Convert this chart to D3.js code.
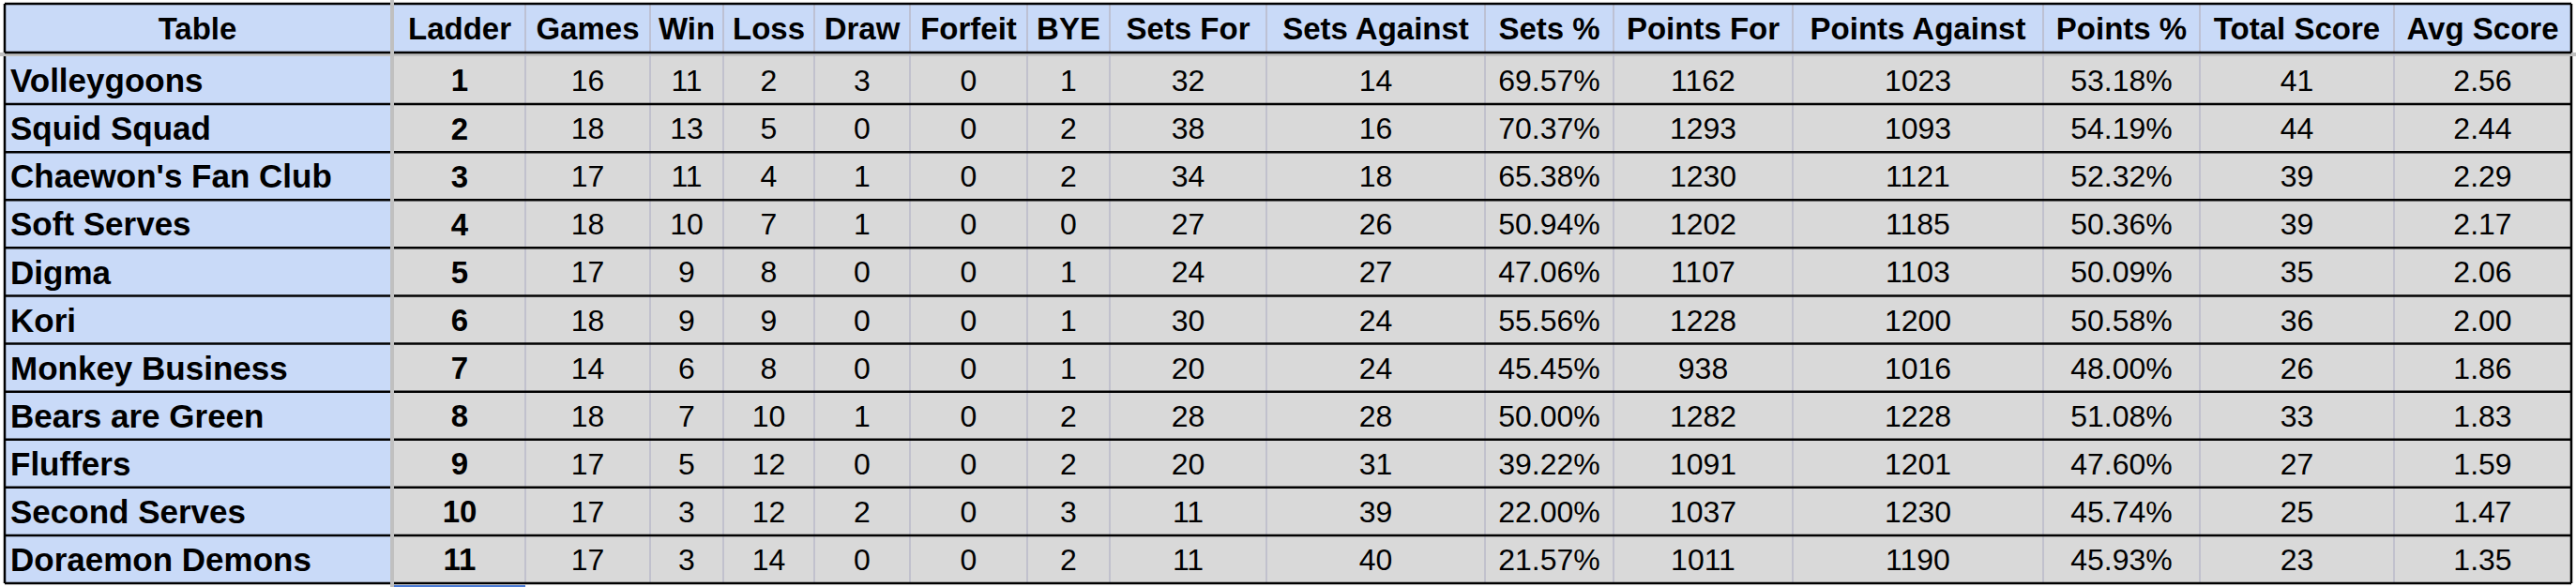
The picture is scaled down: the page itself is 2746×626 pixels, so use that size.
<!DOCTYPE html><html><head><meta charset="utf-8">
<script src="https://cdn.jsdelivr.net/npm/d3@7"></script>
<style>body{margin:0;background:#fff}</style></head><body><svg id="c" width="2746" height="626"></svg>
<script>
const headers=["Table","Ladder","Games","Win","Loss","Draw","Forfeit","BYE","Sets For","Sets Against","Sets %","Points For","Points Against","Points %","Total Score","Avg Score"];
const teams=["Volleygoons","Squid Squad","Chaewon's Fan Club","Soft Serves","Digma","Kori","Monkey Business","Bears are Green","Fluffers","Second Serves","Doraemon Demons"];
const ladder=[1,2,3,4,5,6,7,8,9,10,11];
const games=[16,18,17,18,17,18,14,18,17,17,17];
const win=[11,13,11,10,9,9,6,7,5,3,3];
const loss=[2,5,4,7,8,9,8,10,12,12,14];
const draw=[3,0,1,1,0,0,0,1,0,2,0];
const forfeit=[0,0,0,0,0,0,0,0,0,0,0];
const bye=[1,2,2,0,1,1,1,2,2,3,2];
const setsFor=[32,38,34,27,24,30,20,28,20,11,11];
const setsAgainst=[14,16,18,26,27,24,24,28,31,39,40];
const setsPct=["69.57%","70.37%","65.38%","50.94%","47.06%","55.56%","45.45%","50.00%","39.22%","22.00%","21.57%"];
const pointsFor=[1162,1293,1230,1202,1107,1228,938,1282,1091,1037,1011];
const pointsAgainst=[1023,1093,1121,1185,1103,1200,1016,1228,1201,1230,1190];
const pointsPct=["53.18%","54.19%","52.32%","50.36%","50.09%","50.58%","48.00%","51.08%","47.60%","45.74%","45.93%"];
const totalScore=[41,44,39,39,35,36,26,33,27,25,23];
const avgScore=["2.56","2.44","2.29","2.17","2.06","2.00","1.86","1.83","1.59","1.47","1.35"];
const cols=[teams,ladder,games,win,loss,draw,forfeit,bye,setsFor,setsAgainst,setsPct,pointsFor,pointsAgainst,pointsPct,totalScore,avgScore];
const edges=[5,420,560,693,771,868,970,1095,1183,1350,1583,1720,1911,2178,2345,2552,2741];
const svg=d3.select("#c");
const font="'Liberation Sans',Arial,sans-serif";
const hTop=4,hBot=56,bTop=60,bBot=622;
const y=d3.scaleBand().domain(d3.range(11)).range([bTop,bBot]);
svg.append("rect").attr("x",0).attr("y",0).attr("width",2746).attr("height",626).attr("fill","#fff");
svg.append("rect").attr("x",0).attr("y",hBot).attr("width",2746).attr("height",bTop-hBot).attr("fill","#c0c0c0");
svg.append("rect").attr("x",edges[1]-4).attr("y",0).attr("width",4).attr("height",626).attr("fill","#c0c0c0");
headers.forEach((h,i)=>{
  const x0=i==0?edges[0]:edges[i], x1=i==0?edges[1]-4:edges[i+1];
  svg.append("rect").attr("x",x0).attr("y",hTop).attr("width",x1-x0).attr("height",hBot-hTop).attr("fill","#c9daf8");
  svg.append("text").attr("x",(x0+x1)/2).attr("y",(hTop+hBot)/2).attr("dy","0.36em").attr("text-anchor","middle")
    .attr("font-family",font).attr("font-weight","bold").attr("font-size",33).text(h);
});
cols.forEach((c,i)=>{
  const x0=i==0?edges[0]:edges[i], x1=i==0?edges[1]-4:edges[i+1];
  c.forEach((v,r)=>{
    svg.append("rect").attr("x",x0).attr("y",y(r)).attr("width",x1-x0).attr("height",y.bandwidth()).attr("fill",i==0?"#c9daf8":"#d9d9d9");
    svg.append("text").attr("x",i==0?x0+6:(x0+x1)/2).attr("y",y(r)+y.bandwidth()/2).attr("dy","0.36em")
      .attr("text-anchor",i==0?"start":"middle").attr("font-family",font)
      .attr("font-weight",i<2?"bold":"normal").attr("font-size",i==0?35:(i==1?33:32)).attr("fill","#000").text(v);
  });
});
edges.slice(2,-1).forEach(e=>{
  svg.append("line").attr("x1",e).attr("x2",e).attr("y1",hTop).attr("y2",bBot).attr("stroke","#b8b8c8").attr("stroke-width",1.5);
});
[hTop,hBot].forEach(v=>{
  svg.append("line").attr("x1",edges[0]).attr("x2",edges[1]-4).attr("y1",v).attr("y2",v).attr("stroke","#000").attr("stroke-width",2.5);
  svg.append("line").attr("x1",edges[1]).attr("x2",edges[16]).attr("y1",v).attr("y2",v).attr("stroke","#000").attr("stroke-width",2.5);
});
d3.range(1,12).forEach(r=>{
  const v=r<11?y(r):bBot;
  svg.append("line").attr("x1",edges[0]).attr("x2",edges[1]-4).attr("y1",v).attr("y2",v).attr("stroke","#000").attr("stroke-width",2.5);
  svg.append("line").attr("x1",edges[1]).attr("x2",edges[16]).attr("y1",v).attr("y2",v).attr("stroke","#000").attr("stroke-width",2.5);
});
[edges[0],edges[16]].forEach(e=>{
  svg.append("line").attr("x1",e).attr("x2",e).attr("y1",hTop).attr("y2",hBot).attr("stroke","#000").attr("stroke-width",2.5);
  svg.append("line").attr("x1",e).attr("x2",e).attr("y1",bTop).attr("y2",bBot).attr("stroke","#000").attr("stroke-width",2.5);
});
svg.append("rect").attr("x",edges[1]).attr("y",bBot+2).attr("width",140).attr("height",3).attr("fill","#4a7bd6");
</script></body></html>
